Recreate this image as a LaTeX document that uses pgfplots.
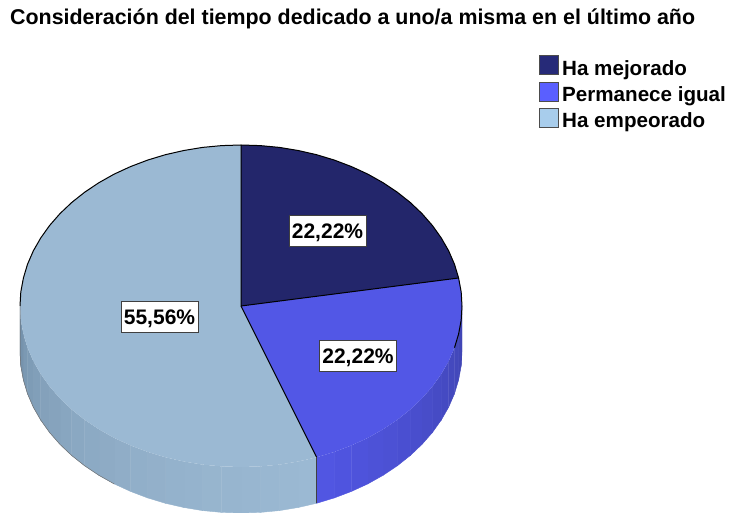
\documentclass[border=0pt]{standalone}
\usepackage{pgfplots}
\usepackage{fontspec}
\setmainfont{Liberation Sans}
\pgfplotsset{compat=1.18}

\definecolor{navy}{HTML}{23266B}
\definecolor{azul}{HTML}{5257E6}
\definecolor{claro}{HTML}{9BB9D3}
\definecolor{legnavy}{HTML}{262A78}
\definecolor{legazul}{HTML}{5A5FFF}
\definecolor{legclaro}{HTML}{A8CDEC}
\definecolor{ladoA}{HTML}{6F8CA6}
\definecolor{ladoB}{HTML}{4045B4}
\pgfplotsset{
  facet/.style={forget plot,fill=#1,draw=#1,line width=0.4pt},
  cara/.style={forget plot,fill=#1,draw=none},
  borde/.style={forget plot,black,line width=1pt,line join=round},
}
\newcommand{\etiqueta}[2]{\node[draw=black!75,fill=white,line width=0.9pt,inner sep=0pt,
  text height=15pt,text depth=0pt,
  minimum width=77pt,minimum height=31pt,font=\fontsize{21}{22}\selectfont\bfseries] at (axis cs:#1) {#2};}

\begin{document}
\begin{tikzpicture}[x=1pt,y=1pt]
\path[use as bounding box] (0,0) rectangle (729,513);
\begin{axis}[
  at={(0pt,0pt)},anchor=south west,
  scale only axis,width=729pt,height=513pt,
  xmin=0,xmax=729,ymin=0,ymax=513,y dir=reverse,
  hide axis,clip=false,
  legend image code/.code={\draw[#1,draw=black!70,line width=1pt] (0pt,-6.5pt) rectangle (19pt,12.5pt);\path (21pt,0pt);},
  legend style={at={(axis cs:539,55.5)},anchor=north west,draw=none,fill=none,
    font=\fontsize{20.6}{22}\selectfont\bfseries,inner sep=0pt,outer sep=0pt,
    /tikz/every even column/.append style={column sep=0pt},
    row sep=3.5pt,nodes={inner sep=1.5pt}},
  legend cell align=left,
]
% lateral izquierdo (160 a 270 grados), cada 5 grados
\addplot[facet=claro] coordinates {(316.6,457.3)(316.6,503.3)(298.2,507.5)(298.2,461.5)};
\addplot[facet=ladoA!2!claro] coordinates {(298.2,461.5)(298.2,507.5)(279.4,510.6)(279.4,464.6)};
\addplot[facet=ladoA!4!claro] coordinates {(279.4,464.6)(279.4,510.6)(260.3,512.4)(260.3,466.4)};
\addplot[facet=ladoA!6!claro] coordinates {(260.3,466.4)(260.3,512.4)(241,513)(241,467)};
\addplot[facet=ladoA!8!claro] coordinates {(241,467)(241,513)(221.7,512.4)(221.7,466.4)};
\addplot[facet=ladoA!10!claro] coordinates {(221.7,466.4)(221.7,512.4)(202.6,510.6)(202.6,464.6)};
\addplot[facet=ladoA!13!claro] coordinates {(202.6,464.6)(202.6,510.6)(183.8,507.5)(183.8,461.5)};
\addplot[facet=ladoA!16!claro] coordinates {(183.8,461.5)(183.8,507.5)(165.4,503.3)(165.4,457.3)};
\addplot[facet=ladoA!19!claro] coordinates {(165.4,457.3)(165.4,503.3)(147.6,497.9)(147.6,451.9)};
\addplot[facet=ladoA!22!claro] coordinates {(147.6,451.9)(147.6,497.9)(130.5,491.4)(130.5,445.4)};
\addplot[facet=ladoA!26!claro] coordinates {(130.5,445.4)(130.5,491.4)(114.2,483.9)(114.2,437.9)};
\addplot[facet=ladoA!30!claro] coordinates {(114.2,437.9)(114.2,483.9)(98.9,475.3)(98.9,429.3)};
\addplot[facet=ladoA!34!claro] coordinates {(98.9,429.3)(98.9,475.3)(84.7,465.8)(84.7,419.8)};
\addplot[facet=ladoA!38!claro] coordinates {(84.7,419.8)(84.7,465.8)(71.7,455.5)(71.7,409.5)};
\addplot[facet=ladoA!43!claro] coordinates {(71.7,409.5)(71.7,455.5)(60,444.4)(60,398.4)};
\addplot[facet=ladoA!48!claro] coordinates {(60,398.4)(60,444.4)(49.6,432.5)(49.6,386.5)};
\addplot[facet=ladoA!53!claro] coordinates {(49.6,386.5)(49.6,432.5)(40.7,420)(40.7,374)};
\addplot[facet=ladoA!58!claro] coordinates {(40.7,374)(40.7,420)(33.3,407.1)(33.3,361.1)};
\addplot[facet=ladoA!65!claro] coordinates {(33.3,361.1)(33.3,407.1)(27.5,393.7)(27.5,347.7)};
\addplot[facet=ladoA!72!claro] coordinates {(27.5,347.7)(27.5,393.7)(23.4,380)(23.4,334)};
\addplot[facet=ladoA!85!claro] coordinates {(23.4,334)(23.4,380)(20.8,366)(20.8,320)};
\addplot[facet=ladoA] coordinates {(20.8,320)(20.8,366)(20,352)(20,306)};
% lateral derecho (90 a 160 grados)
\addplot[facet=ladoB] coordinates {(462,306)(462,352)(461.2,366)(461.2,320)};
\addplot[facet=ladoB!93!azul] coordinates {(461.2,320)(461.2,366)(458.6,380)(458.6,334)};
\addplot[facet=ladoB!86!azul] coordinates {(458.6,334)(458.6,380)(454.5,393.7)(454.5,347.7)};
\addplot[facet=ladoB!79!azul] coordinates {(454.5,347.7)(454.5,393.7)(448.7,407.1)(448.7,361.1)};
\addplot[facet=ladoB!72!azul] coordinates {(448.7,361.1)(448.7,407.1)(441.3,420)(441.3,374)};
\addplot[facet=ladoB!65!azul] coordinates {(441.3,374)(441.3,420)(432.4,432.5)(432.4,386.5)};
\addplot[facet=ladoB!57!azul] coordinates {(432.4,386.5)(432.4,432.5)(422,444.4)(422,398.4)};
\addplot[facet=ladoB!50!azul] coordinates {(422,398.4)(422,444.4)(410.3,455.5)(410.3,409.5)};
\addplot[facet=ladoB!43!azul] coordinates {(410.3,409.5)(410.3,455.5)(397.3,465.8)(397.3,419.8)};
\addplot[facet=ladoB!36!azul] coordinates {(397.3,419.8)(397.3,465.8)(383.1,475.3)(383.1,429.3)};
\addplot[facet=ladoB!29!azul] coordinates {(383.1,429.3)(383.1,475.3)(367.8,483.9)(367.8,437.9)};
\addplot[facet=ladoB!21!azul] coordinates {(367.8,437.9)(367.8,483.9)(351.5,491.4)(351.5,445.4)};
\addplot[facet=ladoB!14!azul] coordinates {(351.5,445.4)(351.5,491.4)(334.4,497.9)(334.4,451.9)};
\addplot[facet=ladoB!7!azul] coordinates {(334.4,451.9)(334.4,497.9)(316.6,503.3)(316.6,457.3)};
% cara superior
\addplot[cara=claro] coordinates {(241,306)(316.6,457.3)(298.2,461.5)(279.4,464.6)(260.3,466.4)(241,467)(221.7,466.4)(202.6,464.6)(183.8,461.5)(165.4,457.3)(147.6,451.9)(130.5,445.4)(114.2,437.9)(98.9,429.3)(84.7,419.8)(71.7,409.5)(60,398.4)(49.6,386.5)(40.7,374)(33.3,361.1)(27.5,347.7)(23.4,334)(20.8,320)(20,306)(20.8,292)(23.4,278)(27.5,264.3)(33.3,250.9)(40.7,238)(49.6,225.5)(60,213.6)(71.7,202.5)(84.7,192.2)(98.9,182.7)(114.2,174.1)(130.5,166.6)(147.6,160.1)(165.4,154.7)(183.8,150.5)(202.6,147.4)(221.7,145.6)(241,145)} -- cycle;
\addplot[cara=azul] coordinates {(241,306)(458.6,278)(461.2,292)(462,306)(461.2,320)(458.6,334)(454.5,347.7)(448.7,361.1)(441.3,374)(432.4,386.5)(422,398.4)(410.3,409.5)(397.3,419.8)(383.1,429.3)(367.8,437.9)(351.5,445.4)(334.4,451.9)(316.6,457.3)} -- cycle;
\addplot[cara=navy] coordinates {(241,306)(241,145)(260.3,145.6)(279.4,147.4)(298.2,150.5)(316.6,154.7)(334.4,160.1)(351.5,166.6)(367.8,174.1)(383.1,182.7)(397.3,192.2)(410.3,202.5)(422,213.6)(432.4,225.5)(441.3,238)(448.7,250.9)(454.5,264.3)(458.6,278)} -- cycle;
% borde visible y radios
\addplot[borde] coordinates {(454.5,347.7)(458.6,334)(461.2,320)(462,306)(461.2,292)(458.6,278)(454.5,264.3)(448.7,250.9)(441.3,238)(432.4,225.5)(422,213.6)(410.3,202.5)(397.3,192.2)(383.1,182.7)(367.8,174.1)(351.5,166.6)(334.4,160.1)(316.6,154.7)(298.2,150.5)(279.4,147.4)(260.3,145.6)(241,145)(221.7,145.6)(202.6,147.4)(183.8,150.5)(165.4,154.7)(147.6,160.1)(130.5,166.6)(114.2,174.1)(98.9,182.7)(84.7,192.2)(71.7,202.5)(60,213.6)(49.6,225.5)(40.7,238)(33.3,250.9)(27.5,264.3)(23.4,278)(20.8,292)(20,306)};
\addplot[borde] coordinates {(241,145)(241,306)(458.6,278)};
\addplot[borde] coordinates {(241,306)(316.6,457.3)};
\addplot[forget plot,black!75,line width=1pt] coordinates {(316.6,457.3)(316.6,503.3)};
% silueta inferior izquierda
\addplot[forget plot,black!55,line width=0.5pt] coordinates {(20,306)(20,352)(20.8,366)(23.4,380)(27.5,393.7)(33.3,407.1)(40.7,420)(49.6,432.5)(60,444.4)(71.7,455.5)(84.7,465.8)(98.9,475.3)(114.2,483.9)};
\addlegendimage{fill=legnavy}
\addlegendimage{fill=legazul}
\addlegendimage{fill=legclaro}
\legend{Ha mejorado,Permanece igual,Ha empeorado}
\etiqueta{327.5,231}{22,22\%}
\etiqueta{358,356}{22,22\%}
\etiqueta{159.5,317}{55,56\%}
\node[anchor=west,font=\fontsize{21.4}{23}\selectfont\bfseries,inner sep=0pt] at (axis cs:10,18.5) {Consideración del tiempo dedicado a uno/a misma en el último año};
\end{axis}
\end{tikzpicture}
\end{document}
